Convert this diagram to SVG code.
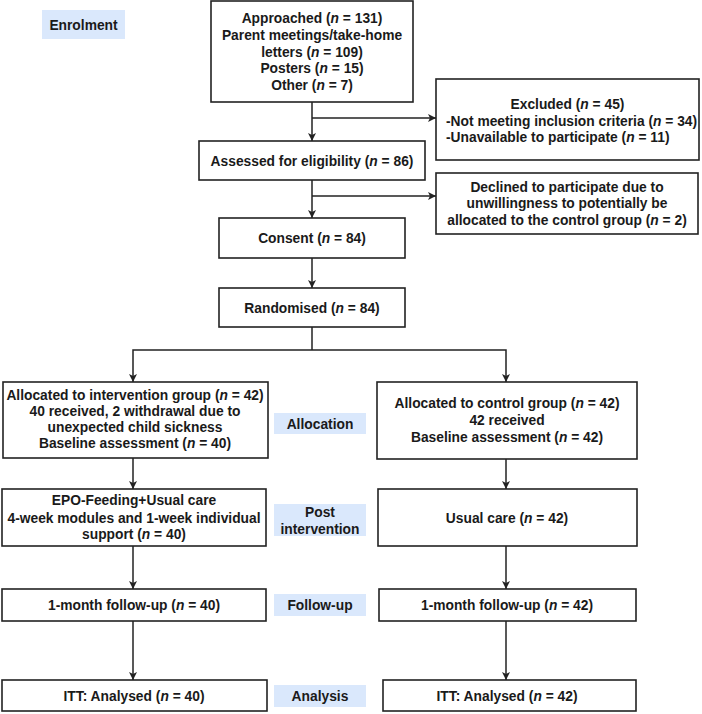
<svg xmlns="http://www.w3.org/2000/svg" width="702" height="714" viewBox="0 0 702 714">
  <style>
    .box { fill: #ffffff; stroke: #222222; stroke-width: 1.6; }
    .tag { fill: #dae8fc; stroke: none; }
    .t { font-family: "Liberation Sans", Arial, sans-serif; font-size: 13.8px; font-weight: bold; fill: #1a1a1a; text-anchor: middle; }
    .l { text-anchor: start; }
    .n { font-style: italic; }
    .wire { fill: none; stroke: #222222; stroke-width: 1.5; }
    .arr { marker-end: url(#head); }
  </style>
  <defs>
    <marker id="head" markerWidth="8" markerHeight="8" refX="8" refY="4" orient="auto" markerUnits="userSpaceOnUse">
      <path d="M0,0 L8,4 L0,8 L2,4 Z" fill="#222222"/>
    </marker>
  </defs>
  <rect width="702" height="714" fill="#ffffff"/>

  <!-- stage labels -->
  <g id="stage-enrolment">
    <rect class="tag" x="42" y="10" width="83" height="29"/>
    <text class="t" x="83.5" y="30">Enrolment</text>
  </g>
  <g id="stage-allocation">
    <rect class="tag" x="274" y="413" width="92" height="21"/>
    <text class="t" x="320" y="429">Allocation</text>
  </g>
  <g id="stage-post">
    <rect class="tag" x="274" y="504" width="92" height="32"/>
    <text class="t" x="320" y="517">Post</text>
    <text class="t" x="320" y="534">intervention</text>
  </g>
  <g id="stage-followup">
    <rect class="tag" x="274" y="594" width="92" height="22"/>
    <text class="t" x="320" y="610">Follow-up</text>
  </g>
  <g id="stage-analysis">
    <rect class="tag" x="274" y="685" width="92" height="22"/>
    <text class="t" x="320" y="701">Analysis</text>
  </g>

  <!-- connectors -->
  <g id="connectors">
    <path class="wire arr" d="M312,102 V141"/>
    <path class="wire arr" d="M312,118 H436"/>
    <path class="wire arr" d="M312,180 V218"/>
    <path class="wire arr" d="M312,196 H436"/>
    <path class="wire arr" d="M312,258 V288"/>
    <path class="wire" d="M312,327 V350"/>
    <path class="wire arr" d="M312,350 H133 V382"/>
    <path class="wire arr" d="M312,350 H506 V382"/>
    <path class="wire arr" d="M133,458 V489"/>
    <path class="wire arr" d="M506,459 V489"/>
    <path class="wire arr" d="M133,546 V589"/>
    <path class="wire arr" d="M506,546 V589"/>
    <path class="wire arr" d="M133,621 V680"/>
    <path class="wire arr" d="M506,621 V680"/>
  </g>

  <!-- nodes -->
  <g id="approached">
    <rect class="box" x="211" y="1" width="202" height="101"/>
    <text class="t" x="312" y="23">Approached (<tspan class="n">n</tspan> = 131)</text>
    <text class="t" x="312" y="40">Parent meetings/take-home</text>
    <text class="t" x="312" y="57">letters (<tspan class="n">n</tspan> = 109)</text>
    <text class="t" x="312" y="73">Posters (<tspan class="n">n</tspan> = 15)</text>
    <text class="t" x="312" y="90">Other (<tspan class="n">n</tspan> = 7)</text>
  </g>
  <g id="excluded">
    <rect class="box" x="436" y="79" width="263" height="81"/>
    <text class="t" x="567.5" y="109">Excluded (<tspan class="n">n</tspan> = 45)</text>
    <text class="t l" x="446" y="125.5">-Not meeting inclusion criteria (<tspan class="n">n</tspan> = 34)</text>
    <text class="t l" x="446" y="142">-Unavailable to participate (<tspan class="n">n</tspan> = 11)</text>
  </g>
  <g id="assessed">
    <rect class="box" x="199" y="141" width="226" height="39"/>
    <text class="t" x="312" y="166">Assessed for eligibility (<tspan class="n">n</tspan> = 86)</text>
  </g>
  <g id="declined">
    <rect class="box" x="436" y="173" width="262" height="61"/>
    <text class="t" x="567" y="192">Declined to participate due to</text>
    <text class="t" x="567" y="208">unwillingness to potentially be</text>
    <text class="t" x="567" y="225">allocated to the control group (<tspan class="n">n</tspan> = 2)</text>
  </g>
  <g id="consent">
    <rect class="box" x="219" y="218" width="186" height="40"/>
    <text class="t" x="312" y="243">Consent (<tspan class="n">n</tspan> = 84)</text>
  </g>
  <g id="randomised">
    <rect class="box" x="219" y="288" width="186" height="39"/>
    <text class="t" x="312" y="313">Randomised (<tspan class="n">n</tspan> = 84)</text>
  </g>
  <g id="alloc-intervention">
    <rect class="box" x="3" y="382" width="265" height="76"/>
    <text class="t" x="135" y="400">Allocated to intervention group (<tspan class="n">n</tspan> = 42)</text>
    <text class="t" x="135" y="416">40 received, 2 withdrawal due to</text>
    <text class="t" x="135" y="432">unexpected child sickness</text>
    <text class="t" x="135" y="447.5">Baseline assessment (<tspan class="n">n</tspan> = 40)</text>
  </g>
  <g id="alloc-control">
    <rect class="box" x="377" y="382" width="260" height="77"/>
    <text class="t" x="507" y="408">Allocated to control group (<tspan class="n">n</tspan> = 42)</text>
    <text class="t" x="507" y="425">42 received</text>
    <text class="t" x="507" y="442">Baseline assessment (<tspan class="n">n</tspan> = 42)</text>
  </g>
  <g id="post-intervention">
    <rect class="box" x="2" y="489" width="264" height="57"/>
    <text class="t" x="134" y="505">EPO-Feeding+Usual care</text>
    <text class="t" x="134" y="523">4-week modules and 1-week individual</text>
    <text class="t" x="134" y="539">support  (<tspan class="n">n</tspan> = 40)</text>
  </g>
  <g id="post-control">
    <rect class="box" x="378" y="489" width="259" height="57"/>
    <text class="t" x="507" y="523">Usual care (<tspan class="n">n</tspan> = 42)</text>
  </g>
  <g id="followup-intervention">
    <rect class="box" x="2" y="589" width="264" height="32"/>
    <text class="t" x="134" y="610">1-month follow-up (<tspan class="n">n</tspan> = 40)</text>
  </g>
  <g id="followup-control">
    <rect class="box" x="379" y="589" width="257" height="32"/>
    <text class="t" x="507" y="610">1-month follow-up (<tspan class="n">n</tspan> = 42)</text>
  </g>
  <g id="analysis-intervention">
    <rect class="box" x="2" y="680" width="265" height="31"/>
    <text class="t" x="134" y="701">ITT: Analysed (<tspan class="n">n</tspan> = 40)</text>
  </g>
  <g id="analysis-control">
    <rect class="box" x="383" y="680" width="253" height="31"/>
    <text class="t" x="507" y="701">ITT: Analysed (<tspan class="n">n</tspan> = 42)</text>
  </g>
</svg>
